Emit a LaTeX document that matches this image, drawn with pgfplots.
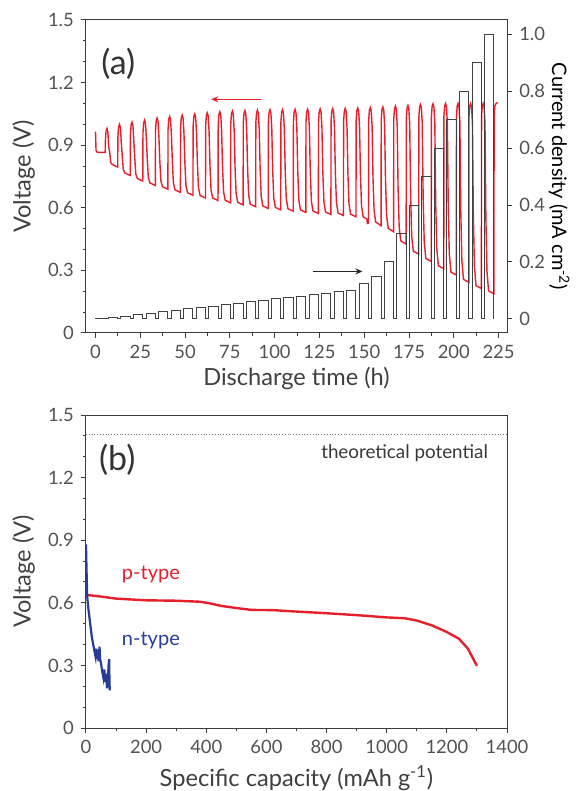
\documentclass[border=0pt]{standalone}
\usepackage{pgfplots}
\pgfplotsset{compat=1.18}
\usetikzlibrary{arrows.meta}
\usepackage{fontspec}
\setmainfont{Lato}
\definecolor{vred}{RGB}{228,32,44}
\definecolor{nblue}{RGB}{40,62,150}
\definecolor{frame}{RGB}{60,60,60}
\begin{document}
\begin{tikzpicture}
\path[use as bounding box] (-43pt,-229pt) rectangle (245.5pt,166.5pt);
\pgfplotsset{
  panel/.style={
    scale only axis, width=210.5pt, height=156.5pt,
    axis line style={frame, line width=0.5pt},
    tick style={frame, line width=0.5pt},
    tick align=outside,
    major tick length=2.6pt, minor tick length=1.5pt,
    tick label style={font=\fontsize{9.2}{11}\selectfont, text=black!68},
    label style={font=\fontsize{11.8}{14}\selectfont, text=black!75},
    /pgf/number format/assume math mode=true,
    /pgf/number format/1000 sep={},
  }
}
% (a) voltage, left axis
\begin{axis}[panel, at={(0,0)}, anchor=south west,
  xmin=-5.3, xmax=229.7, ymin=0, ymax=1.5,
  xtick={0,25,50,75,100,125,150,175,200,225}, minor x tick num=1,
  ytick={0,0.3,0.6,0.9,1.2,1.5}, yticklabels={0,0.3,0.6,0.9,1.2,1.5},
  minor y tick num=2,
  xtick pos=left, ytick pos=left,
  xlabel={Discharge time (h)}, ylabel={Voltage (V)},
  xlabel style={at={(axis description cs:0.5,-0.144)}, anchor=center},
  ylabel style={at={(axis description cs:-0.148,0.5)}, anchor=center},
]
\addplot[vred, line width=0.7pt] coordinates {
(0,0.965) (0.3,0.875) (1.0,0.866)
(5.4,0.865) (5.5,0.92) (5.9,0.968) (6.4,0.98) (6.9,0.965) (7.4,0.89) (7.9,0.869) (8.5,0.817) (9.4,0.807)
(12.4,0.795) (12.5,0.94) (12.9,0.988) (13.4,1.0) (13.9,0.985) (14.4,0.91) (14.9,0.853) (15.5,0.784) (16.4,0.767)
(19.4,0.755) (19.5,0.95) (19.9,0.998) (20.4,1.01) (20.9,0.995) (21.4,0.92) (21.9,0.841) (22.5,0.762) (23.4,0.74)
(26.4,0.728) (26.5,0.96) (26.9,1.008) (27.4,1.02) (27.9,1.005) (28.4,0.93) (28.9,0.832) (29.5,0.745) (30.4,0.719)
(33.4,0.707) (33.5,0.97) (33.9,1.018) (34.4,1.03) (34.9,1.015) (35.4,0.94) (35.9,0.825) (36.5,0.73) (37.4,0.701)
(40.4,0.689) (40.5,0.977) (40.9,1.025) (41.4,1.037) (41.9,1.022) (42.4,0.947) (42.9,0.819) (43.5,0.718) (44.4,0.686)
(47.4,0.674) (47.5,0.984) (47.9,1.032) (48.4,1.044) (48.9,1.029) (49.4,0.954) (49.9,0.814) (50.5,0.706) (51.4,0.672)
(54.4,0.66) (54.5,0.99) (54.9,1.038) (55.4,1.05) (55.9,1.035) (56.4,0.96) (56.9,0.808) (57.5,0.695) (58.4,0.659)
(61.4,0.647) (61.5,0.995) (61.9,1.043) (62.4,1.055) (62.9,1.04) (63.4,0.965) (63.9,0.803) (64.5,0.685) (65.4,0.647)
(68.4,0.635) (68.5,1.0) (68.9,1.048) (69.4,1.06) (69.9,1.045) (70.4,0.97) (70.9,0.798) (71.5,0.676) (72.4,0.636)
(75.4,0.624) (75.5,1.003) (75.9,1.051) (76.4,1.063) (76.9,1.048) (77.4,0.973) (77.9,0.794) (78.5,0.668) (79.4,0.626)
(82.4,0.614) (82.5,1.006) (82.9,1.054) (83.4,1.066) (83.9,1.051) (84.4,0.976) (84.9,0.789) (85.5,0.66) (86.4,0.617)
(89.4,0.605) (89.5,1.008) (89.9,1.056) (90.4,1.068) (90.9,1.053) (91.4,0.978) (91.9,0.785) (92.5,0.654) (93.4,0.609)
(96.4,0.597) (96.5,1.01) (96.9,1.058) (97.4,1.07) (97.9,1.055) (98.4,0.98) (98.9,0.782) (99.5,0.648) (100.4,0.602)
(103.4,0.59) (103.5,1.01) (103.9,1.058) (104.4,1.07) (104.9,1.055) (105.4,0.98) (105.9,0.778) (106.5,0.642) (107.4,0.596)
(110.4,0.584) (110.5,1.012) (110.9,1.06) (111.4,1.072) (111.9,1.057) (112.4,0.982) (112.9,0.776) (113.5,0.637) (114.4,0.59)
(117.4,0.578) (117.5,1.012) (117.9,1.06) (118.4,1.072) (118.9,1.057) (119.4,0.982) (119.9,0.773) (120.5,0.633) (121.4,0.585)
(124.4,0.573) (124.5,1.014) (124.9,1.062) (125.4,1.074) (125.9,1.059) (126.4,0.984) (126.9,0.77) (127.5,0.629) (128.4,0.58)
(131.4,0.568) (131.5,1.015) (131.9,1.063) (132.4,1.075) (132.9,1.06) (133.4,0.985) (133.9,0.768) (134.5,0.624) (135.4,0.575)
(138.4,0.563) (138.5,1.016) (138.9,1.064) (139.4,1.076) (139.9,1.061) (140.4,0.986) (140.9,0.765) (141.5,0.619) (142.4,0.569)
(145.4,0.557) (145.5,1.018) (145.9,1.066) (146.4,1.078) (146.9,1.063) (147.4,0.988) (147.9,0.758) (148.5,0.609) (149.4,0.557)
(151.6,0.545) (151.7,0.525) (152.4,0.527) (152.5,1.02) (152.9,1.068) (153.4,1.08) (153.9,1.065) (154.4,0.99) (154.9,0.744) (155.5,0.587) (156.4,0.532)
(159.4,0.515) (159.5,1.023) (159.9,1.071) (160.4,1.083) (160.9,1.068) (161.4,0.993) (161.9,0.727) (162.5,0.561) (163.4,0.502)
(166.4,0.485) (166.5,1.027) (166.9,1.075) (167.4,1.087) (167.9,1.072) (168.4,0.997) (168.9,0.693) (169.5,0.509) (170.4,0.442)
(173.4,0.425) (173.5,1.03) (173.9,1.078) (174.4,1.09) (174.9,1.075) (175.4,1.0) (175.9,0.664) (176.5,0.465) (177.4,0.392)
(180.4,0.378) (180.5,1.035) (180.9,1.083) (181.4,1.095) (181.9,1.08) (182.4,1.005) (182.9,0.645) (183.5,0.435) (184.4,0.357)
(187.4,0.343) (187.5,1.038) (187.9,1.086) (188.4,1.098) (188.9,1.083) (189.4,1.008) (189.9,0.625) (190.5,0.405) (191.4,0.322)
(194.4,0.308) (194.5,1.04) (194.9,1.088) (195.4,1.1) (195.9,1.085) (196.4,1.01) (196.9,0.608) (197.5,0.378) (198.4,0.292)
(201.4,0.278) (201.5,1.04) (201.9,1.088) (202.4,1.1) (202.9,1.085) (203.4,1.01) (203.9,0.587) (204.5,0.348) (205.4,0.257)
(208.4,0.243) (208.5,1.04) (208.9,1.088) (209.4,1.1) (209.9,1.085) (210.4,1.01) (210.9,0.569) (211.5,0.321) (212.4,0.227)
(215.4,0.213) (215.5,1.04) (215.9,1.088) (216.4,1.1) (216.9,1.085) (217.4,1.01) (217.9,0.554) (218.5,0.299) (219.4,0.202)
(222.4,0.188) (222.5,1.04) (222.9,1.088) (223.6,1.1) (224.5,1.105)
};
\node[font=\fontsize{17}{19}\selectfont, text=black!80] at (axis cs:12.7,1.29) {(a)};
\draw[vred, line width=0.6pt, -{Stealth[length=3.5pt,width=3pt]}] (axis cs:92.3,1.12) -- (axis cs:64.6,1.12);
\draw[black!85, line width=0.6pt, -{Stealth[length=3.5pt,width=3pt]}] (axis cs:121.4,0.295) -- (axis cs:149,0.295);
\end{axis}
% (a) current density, right axis
\begin{axis}[panel, at={(0,0)}, anchor=south west,
  xmin=-5.3, xmax=229.7, ymin=-0.0495, ymax=1.05,
  axis x line=none, axis y line*=right,
  ytick={0,0.2,0.4,0.6,0.8,1.0}, yticklabels={0,0.2,0.4,0.6,0.8,1.0},
  ylabel={Current density (mA cm\textsuperscript{-2})},
  every axis y label/.style={at={(axis description cs:1.124,0.5)}, rotate=-90, anchor=center},
]
\addplot[black!75, line width=0.5pt] coordinates {
(0,0) (0,0.002) (5.4,0.002) (5.4,0)
(7.2,0) (7.2,0.005) (12.4,0.005) (12.4,0)
(14.2,0) (14.2,0.01) (19.4,0.01) (19.4,0)
(21.2,0) (21.2,0.015) (26.4,0.015) (26.4,0)
(28.2,0) (28.2,0.02) (33.4,0.02) (33.4,0)
(35.2,0) (35.2,0.025) (40.4,0.025) (40.4,0)
(42.2,0) (42.2,0.03) (47.4,0.03) (47.4,0)
(49.2,0) (49.2,0.035) (54.4,0.035) (54.4,0)
(56.2,0) (56.2,0.04) (61.4,0.04) (61.4,0)
(63.2,0) (63.2,0.045) (68.4,0.045) (68.4,0)
(70.2,0) (70.2,0.05) (75.4,0.05) (75.4,0)
(77.2,0) (77.2,0.055) (82.4,0.055) (82.4,0)
(84.2,0) (84.2,0.06) (89.4,0.06) (89.4,0)
(91.2,0) (91.2,0.065) (96.4,0.065) (96.4,0)
(98.2,0) (98.2,0.07) (103.4,0.07) (103.4,0)
(105.2,0) (105.2,0.075) (110.4,0.075) (110.4,0)
(112.2,0) (112.2,0.08) (117.4,0.08) (117.4,0)
(119.2,0) (119.2,0.085) (124.4,0.085) (124.4,0)
(126.2,0) (126.2,0.09) (131.4,0.09) (131.4,0)
(133.2,0) (133.2,0.095) (138.4,0.095) (138.4,0)
(140.2,0) (140.2,0.1) (145.4,0.1) (145.4,0)
(147.2,0) (147.2,0.125) (152.4,0.125) (152.4,0)
(154.2,0) (154.2,0.15) (159.4,0.15) (159.4,0)
(161.2,0) (161.2,0.2) (166.4,0.2) (166.4,0)
(168.2,0) (168.2,0.3) (173.4,0.3) (173.4,0)
(175.2,0) (175.2,0.4) (180.4,0.4) (180.4,0)
(182.2,0) (182.2,0.5) (187.4,0.5) (187.4,0)
(189.2,0) (189.2,0.6) (194.4,0.6) (194.4,0)
(196.2,0) (196.2,0.7) (201.4,0.7) (201.4,0)
(203.2,0) (203.2,0.8) (208.4,0.8) (208.4,0)
(210.2,0) (210.2,0.9) (215.4,0.9) (215.4,0)
(217.2,0) (217.2,1.0) (222.4,1.0) (222.4,0)
};
\end{axis}
% (b)
\begin{axis}[panel, at={(0,-197.5pt)}, anchor=south west,
  xmin=0, xmax=1400, ymin=0, ymax=1.5,
  xtick={0,200,400,600,800,1000,1200,1400}, minor x tick num=1,
  ytick={0,0.3,0.6,0.9,1.2,1.5}, yticklabels={0,0.3,0.6,0.9,1.2,1.5},
  minor y tick num=2,
  xtick pos=left, ytick pos=left,
  xlabel={Specific capacity (mAh g\textsuperscript{-1})}, ylabel={Voltage (V)},
  xlabel style={at={(axis description cs:0.5,-0.16)}, anchor=center},
  ylabel style={at={(axis description cs:-0.148,0.5)}, anchor=center},
]
\addplot[black!55, line width=0.4pt, densely dotted] coordinates {(0,1.405) (1400,1.405)};
\addplot[vred, line width=1.2pt] coordinates {
(0,0.638) (50,0.63) (100,0.62) (200,0.612) (300,0.61) (380,0.605) (410,0.598)
(450,0.585) (500,0.575) (550,0.566) (620,0.565) (700,0.558) (800,0.55) (900,0.541)
(1000,0.53) (1060,0.526) (1100,0.515) (1150,0.492) (1200,0.46) (1240,0.428)
(1270,0.38) (1300,0.298)
};
\addplot[nblue, line width=1.1pt] coordinates {
(0,0.88) (2,0.75) (4,0.63) (8,0.57) (14,0.50) (20,0.43) (24,0.40) (28,0.37)
(32,0.34) (35,0.38) (38,0.33) (40,0.36) (42,0.32) (45,0.39) (47,0.33) (50,0.31)
(54,0.27) (58,0.24) (61,0.28) (64,0.22) (67,0.26) (70,0.19) (73,0.24) (75,0.30)
(77,0.33) (78,0.24) (79,0.18)
};
\node[font=\fontsize{17}{19}\selectfont, text=black!80] at (axis cs:104,1.283) {(b)};
\node[font=\fontsize{9.4}{11}\selectfont, text=black!78, anchor=east] at (axis cs:1360,1.319) {theoretical potential};
\node[font=\fontsize{10}{12}\selectfont, text=vred, anchor=west] at (axis cs:96,0.738) {p-type};
\node[font=\fontsize{10}{12}\selectfont, text=nblue, anchor=west] at (axis cs:96,0.417) {n-type};
\end{axis}
\end{tikzpicture}
\end{document}
